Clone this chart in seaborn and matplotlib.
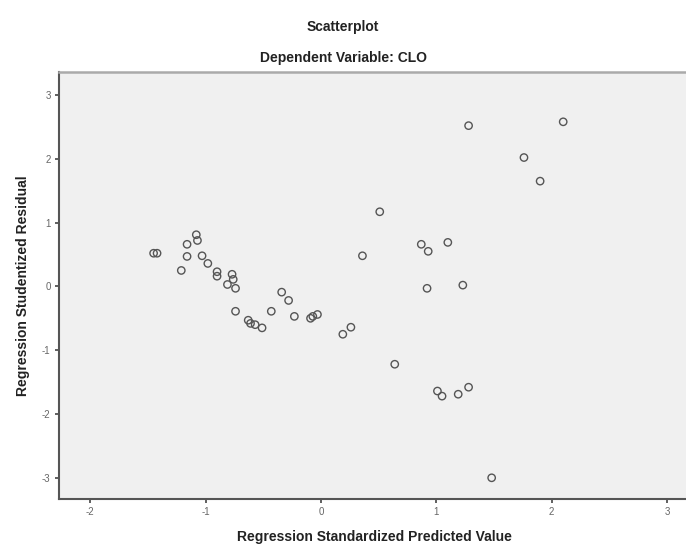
import matplotlib
matplotlib.use("Agg")
import matplotlib.pyplot as plt
import seaborn as sns
import pandas as pd

# Regression standardized predicted value (x) and studentized residual (y)
pred = [-1.45, -1.42, -1.08, -1.16, -1.07, -1.16, -1.03, -0.98, -1.21, -0.90,
        -0.90, -0.77, -0.76, -0.81, -0.74, 0.36, -0.34, -0.28, -0.74, -0.43,
        -0.23, -0.09, -0.07, -0.03, -0.63, -0.61, -0.57, -0.51, 0.19, 0.26,
        1.28, 2.10, 1.76, 1.90, 0.51, 0.87, 0.93, 1.10, 0.92, 1.23,
        0.64, 1.01, 1.05, 1.19, 1.28, 1.48]
resid = [0.52, 0.52, 0.81, 0.66, 0.72, 0.47, 0.48, 0.36, 0.25, 0.23,
         0.16, 0.19, 0.11, 0.03, -0.03, 0.48, -0.09, -0.22, -0.39, -0.39,
         -0.47, -0.50, -0.47, -0.44, -0.53, -0.58, -0.60, -0.65, -0.75, -0.64,
         2.52, 2.58, 2.02, 1.65, 1.17, 0.66, 0.55, 0.69, -0.03, 0.02,
         -1.22, -1.64, -1.72, -1.69, -1.58, -3.00]

df = pd.DataFrame({"pred": pred, "resid": resid})

sns.set_style("ticks")
plt.rcParams["font.family"] = ["Liberation Sans", "DejaVu Sans"]
plt.rcParams["axes.unicode_minus"] = False

fig = plt.figure(figsize=(6.86, 5.5), dpi=100)
# axes run off the right edge of the figure, like the reference
ax = fig.add_axes([0.086, 0.093, 0.92, 0.776])
ax.set_facecolor("#f0f0f0")

sns.scatterplot(data=df, x="pred", y="resid", ax=ax, marker="o", s=28,
                facecolor="none", edgecolor="#555555", linewidth=1.0)

ax.set_xlim(-2.27, 3.2)
ax.set_ylim(-3.33, 3.36)
ax.set_xticks([-2, -1, 0, 1, 2, 3])
ax.set_yticks([-3, -2, -1, 0, 1, 2, 3])
ax.tick_params(axis="both", direction="out", length=3, width=1.2, color="#444444",
               labelsize=7, labelcolor="#666666", pad=3)

for side in ["left", "bottom"]:
    ax.spines[side].set_color("#555555")
    ax.spines[side].set_linewidth(1.5)
ax.spines["top"].set_color("#aaaaaa")
ax.spines["top"].set_linewidth(1.8)
ax.spines["right"].set_visible(False)

ax.set_xlabel("Regression Standardized Predicted Value", fontsize=10,
              fontweight="bold", color="#222222", labelpad=9)
ax.set_ylabel("Regression Studentized Residual", fontsize=10,
              fontweight="bold", color="#222222", labelpad=9)

fig.text(0.5, 0.95, "Scatterplot", ha="center", va="center", fontsize=10,
         fontweight="bold", color="#222222")
fig.text(0.5, 0.895, "Dependent Variable: CLO", ha="center", va="center",
         fontsize=10, fontweight="bold", color="#222222")

fig.savefig("out.png", dpi=100)
